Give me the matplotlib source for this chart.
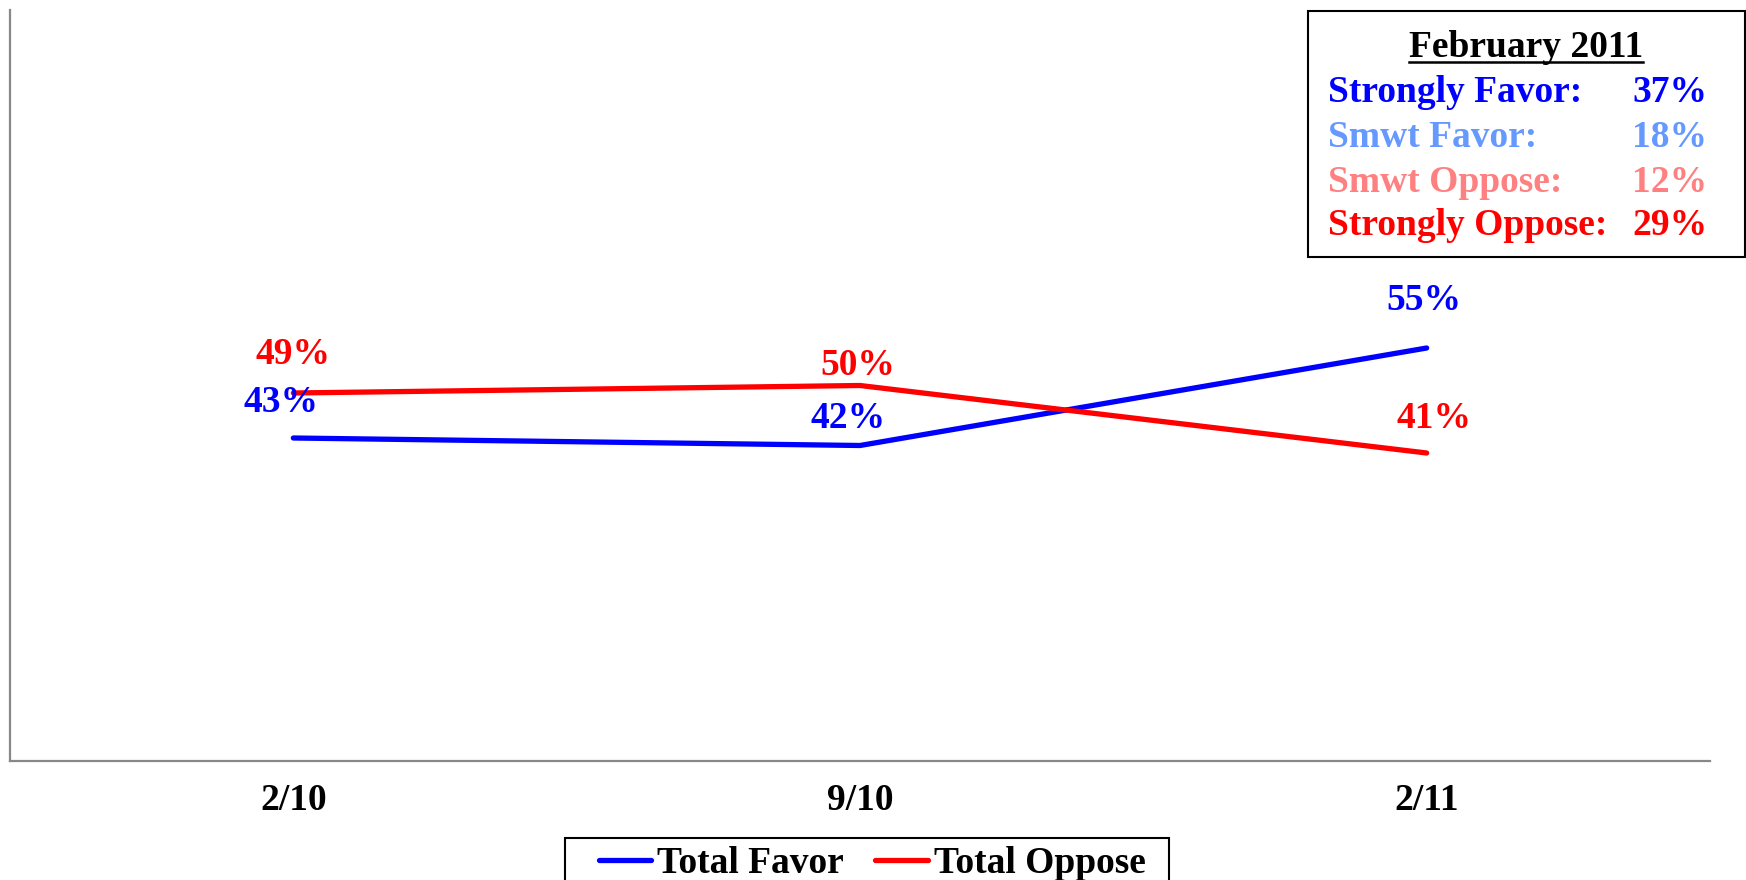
import matplotlib.pyplot as plt
from matplotlib.patches import Rectangle
from matplotlib.lines import Line2D

plt.rcParams['font.family'] = ['Liberation Serif', 'DejaVu Serif']
plt.rcParams['font.weight'] = 'bold'

dates = ['2/10', '9/10', '2/11']
favor = [43, 42, 55]
oppose = [49, 50, 41]

box_title = 'February 2011'
box_labels = ['Strongly Favor:', 'Smwt Favor:', 'Smwt Oppose:', 'Strongly Oppose:']
box_values = [37, 18, 12, 29]
box_colors = ['#0000FF', '#6699FF', '#FF8080', '#FF0000']

# label offsets in pixels (dx, dy)
favor_off = [(-12, 35), (-12, 27), (-3, 47)]
oppose_off = [(0, 38), (-2, 20), (7, 35)]

FS = 27
W, H = 1746, 880
fig = plt.figure(figsize=(W / 100, H / 100), dpi=100)
ax = fig.add_axes([10 / W, (H - 760.5) / H, 1700 / W, 750 / H])

x = range(len(dates))
ax.plot(x, favor, color='#0000FF', lw=3.8, solid_capstyle='round', label='Total Favor')
ax.plot(x, oppose, color='#FF0000', lw=3.8, solid_capstyle='round', label='Total Oppose')

for i, v in enumerate(favor):
    ax.annotate(f'{v}%', (i, v), xytext=favor_off[i], textcoords='offset pixels',
                ha='center', va='center', color='#0000FF', fontsize=FS, fontweight='bold')
for i, v in enumerate(oppose):
    ax.annotate(f'{v}%', (i, v), xytext=oppose_off[i], textcoords='offset pixels',
                ha='center', va='center', color='#FF0000', fontsize=FS, fontweight='bold')

ax.set_xlim(-0.5, 2.5)
ax.set_ylim(0, 100)
ax.set_xticks(list(x))
ax.set_xticklabels(dates, fontsize=FS, fontweight='bold')
ax.set_yticks([])
ax.tick_params(axis='x', length=0, pad=16)
for s in ['top', 'right']:
    ax.spines[s].set_visible(False)
for s in ['left', 'bottom']:
    ax.spines[s].set_color('#888888')
    ax.spines[s].set_linewidth(1.6)

# summary box, top right
fig.patches.append(Rectangle((1308 / W, 1 - 257 / H), (1745 - 1308) / W, (257 - 11) / H,
                             transform=fig.transFigure, fill=False, edgecolor='black', lw=1.5))
t = fig.text(1526 / W, 1 - 57 / H, box_title, ha='center', va='baseline',
             fontsize=FS, fontweight='bold', color='black')
rows_y = [102, 147, 192, 235]
for lab, val, col, yy in zip(box_labels, box_values, box_colors, rows_y):
    fig.text(1328 / W, 1 - yy / H, lab, ha='left', va='baseline', fontsize=FS,
             fontweight='bold', color=col)
    fig.text(1707 / W, 1 - yy / H, f'{val}%', ha='right', va='baseline', fontsize=FS,
             fontweight='bold', color=col)

leg = fig.legend(loc='upper center', bbox_to_anchor=(872 / W, 1 - 842 / H), ncol=2,
                 frameon=False,
                 prop={'family': 'Liberation Serif', 'weight': 'bold', 'size': FS},
                 handlelength=1.4, handletextpad=0.15, columnspacing=0.85,
                 borderpad=0.1, borderaxespad=0)

fig.canvas.draw()
bb = t.get_window_extent()
fig.lines.append(Line2D([bb.x0 / W, bb.x1 / W], [1 - 62 / H, 1 - 62 / H],
                        transform=fig.transFigure, color='black', lw=1.8))

# legend frame: wider than the entries, running off the bottom edge
lb = leg.get_window_extent()
fx0, fx1 = lb.x0 - 30, lb.x1 + 20
fig.patches.append(Rectangle((fx0 / W, -0.05), (fx1 - fx0) / W, 0.05 + 1 - 838 / H,
                             transform=fig.transFigure, fill=False, edgecolor='black', lw=1.5))

fig.savefig('out.png', dpi=100)
